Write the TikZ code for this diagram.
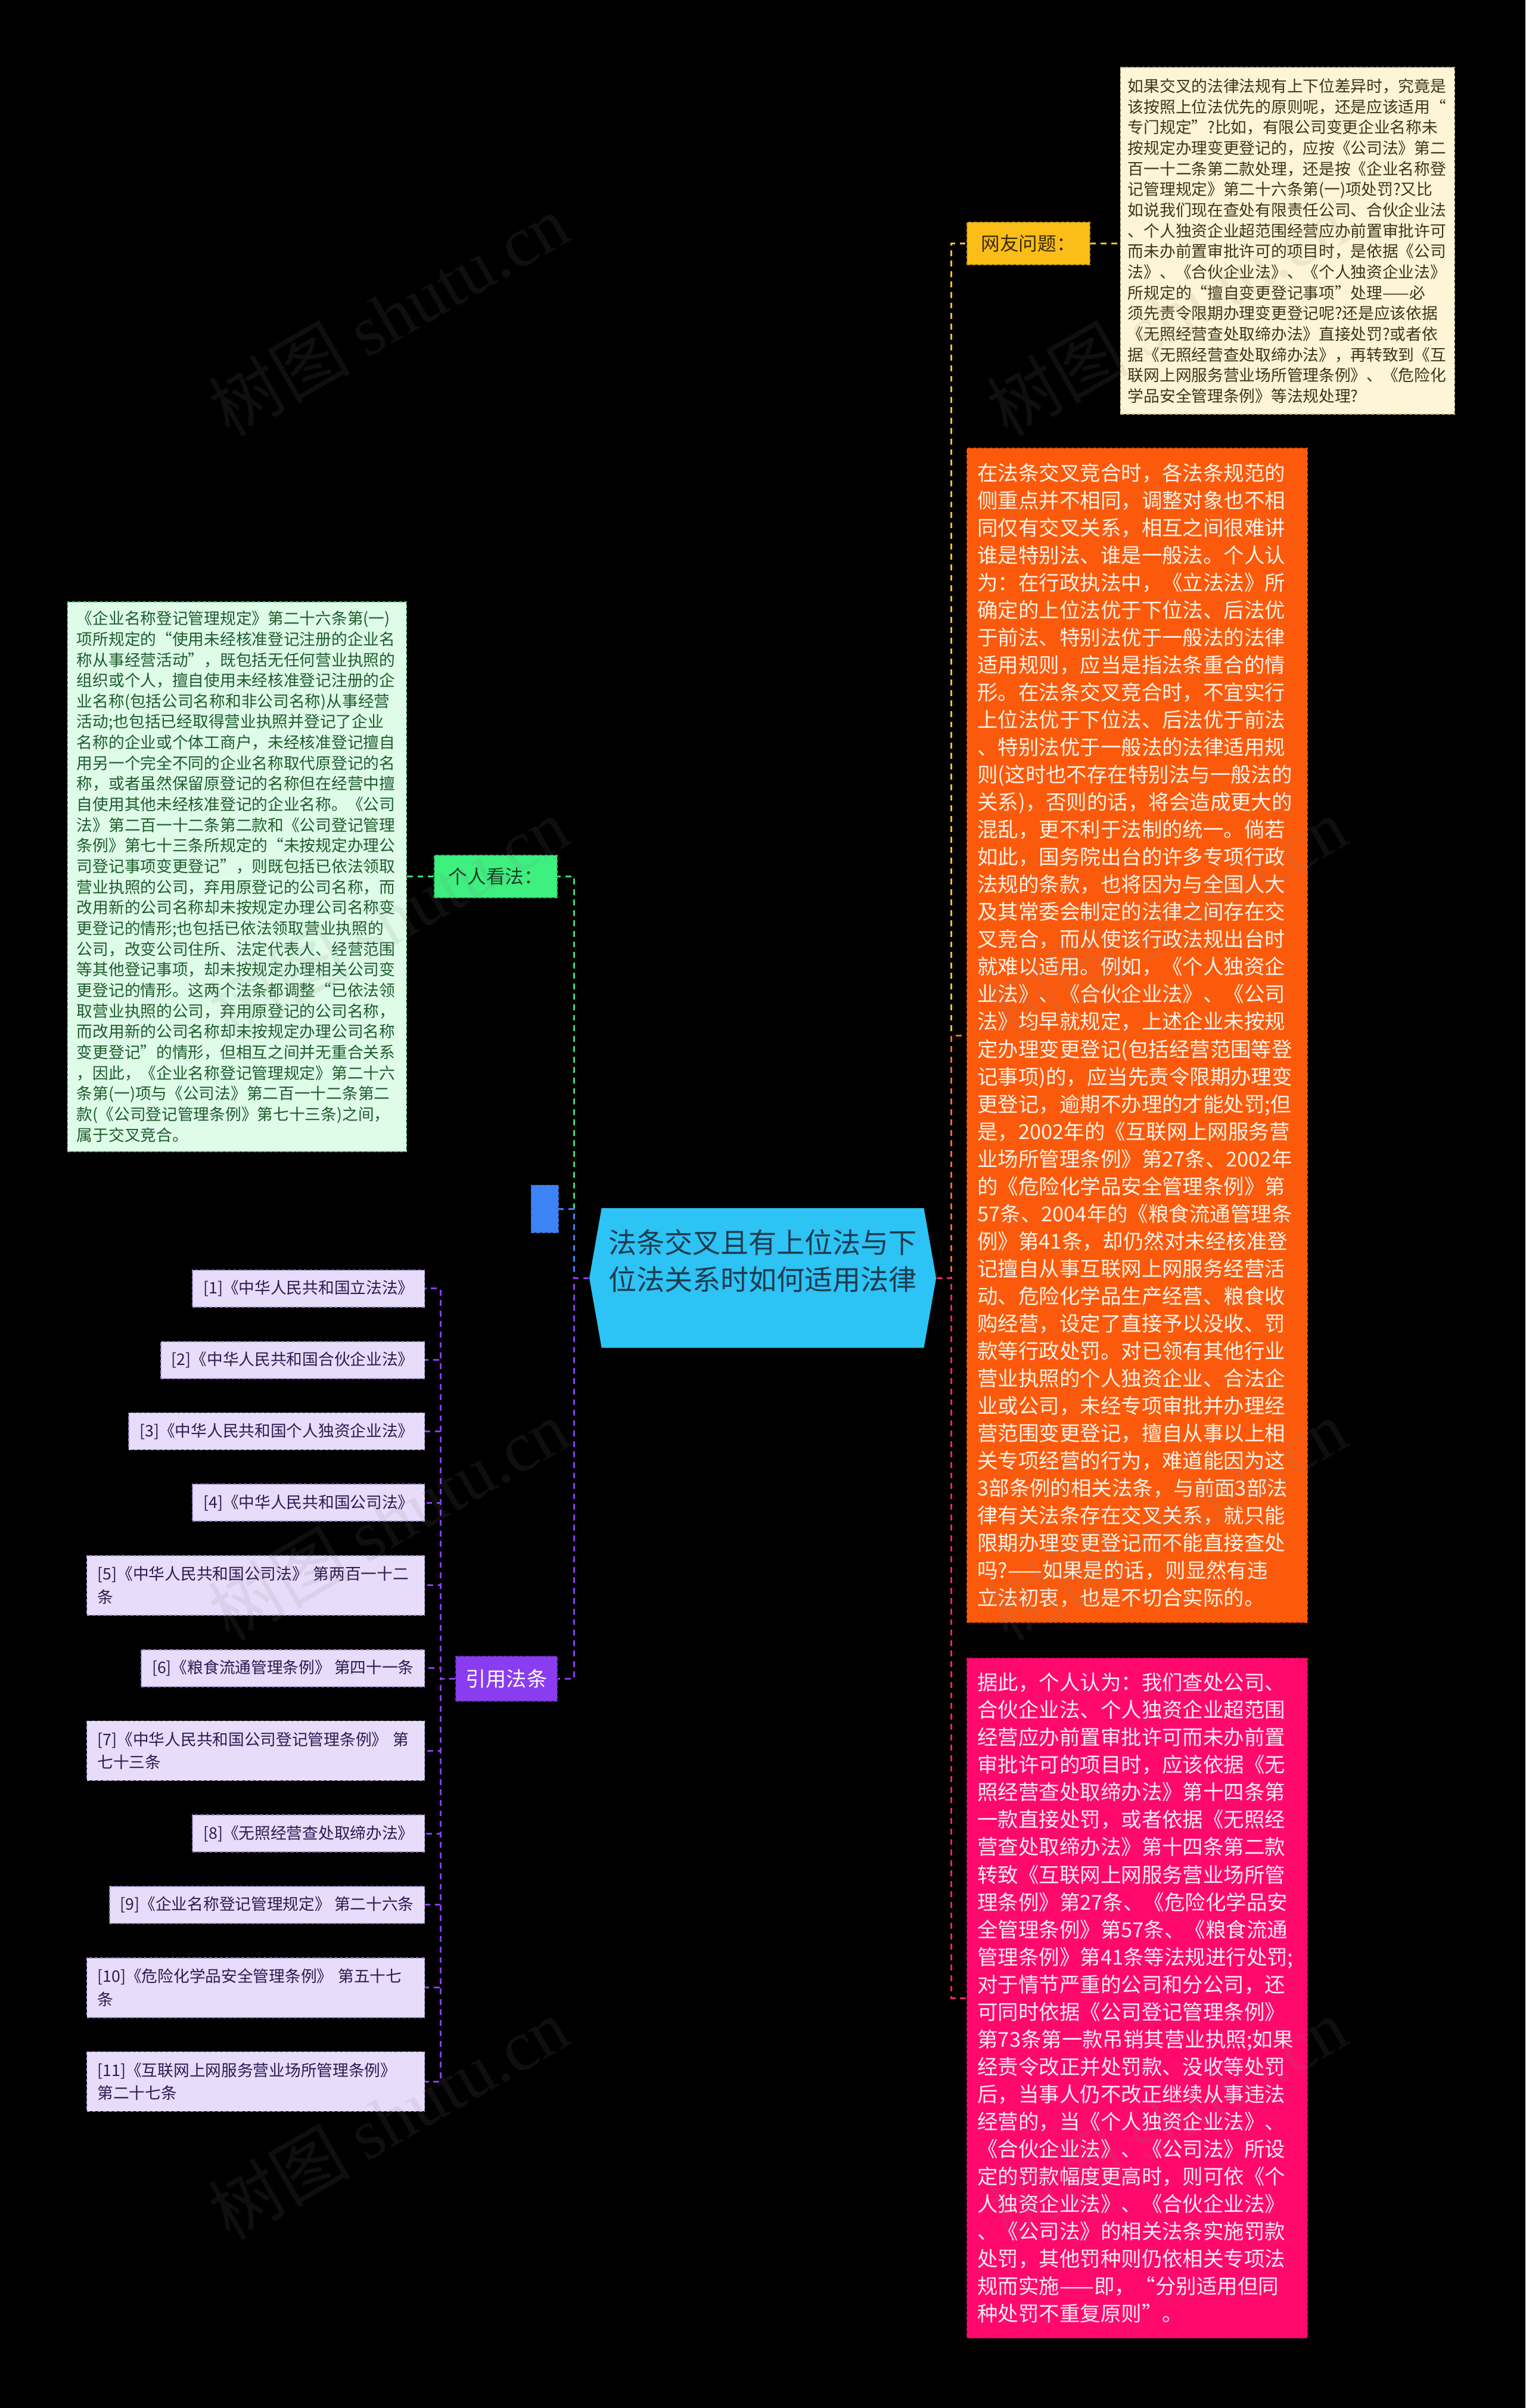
\documentclass[tikz,border=0pt]{standalone}
\usepackage{fontspec}
\setmainfont{Noto Sans CJK SC}
\newfontfamily\wmlatin{Liberation Serif}
\usetikzlibrary{positioning}
\definecolor{rootFill}{HTML}{2DC3F4}
\definecolor{rootInk}{HTML}{1D3B4E}
\definecolor{wentiFill}{HTML}{FBBD18}
\definecolor{wentiInk}{HTML}{3B2A00}
\definecolor{wentiLine}{HTML}{C99A10}
\definecolor{questionFill}{HTML}{FEF4D6}
\definecolor{questionInk}{HTML}{3E3418}
\definecolor{questionLine}{HTML}{BCA774}
\definecolor{analysisFill}{HTML}{FB5A0C}
\definecolor{analysisInk}{HTML}{FFF2E8}
\definecolor{analysisLine}{HTML}{E04A05}
\definecolor{verdictFill}{HTML}{FF0A6C}
\definecolor{verdictInk}{HTML}{FFEAF3}
\definecolor{verdictLine}{HTML}{D80058}
\definecolor{kanfaFill}{HTML}{3EF080}
\definecolor{kanfaInk}{HTML}{1F3B26}
\definecolor{kanfaLine}{HTML}{2CC062}
\definecolor{opinionFill}{HTML}{DEFCE8}
\definecolor{opinionInk}{HTML}{1E5C2C}
\definecolor{opinionLine}{HTML}{5FC982}
\definecolor{blueFill}{HTML}{3C83F6}
\definecolor{yinyongFill}{HTML}{8A3DF0}
\definecolor{refFill}{HTML}{E7DCF9}
\definecolor{refInk}{HTML}{2B1B52}
\definecolor{refLine}{HTML}{9C88C8}
\definecolor{linkYellow}{HTML}{F5C125}
\definecolor{linkOrange}{HTML}{F26E25}
\definecolor{linkPink}{HTML}{E8246C}
\definecolor{linkGreen}{HTML}{3CDB7A}
\definecolor{linkBlue}{HTML}{3C83F6}
\definecolor{linkPurple}{HTML}{8A3DF0}
\tikzset{
  link/.style={line width=0.9pt, dash pattern=on 2.8pt off 2.2pt},
  tagbox/.style={draw, dash pattern=on 1.6pt off 1pt, line width=0.5pt, inner sep=0pt, minimum width=2.06cm, minimum height=0.71cm, font=\fontsize{9pt}{11pt}\selectfont},
  notebox/.style={draw, dash pattern=on 1.6pt off 1pt, line width=0.5pt, align=left, inner ysep=0pt, font=\fontsize{7.6pt}{9.86pt}\selectfont},
  bodybox/.style={draw, dash pattern=on 1.6pt off 1pt, line width=0.5pt, align=left, inner xsep=0.18cm, inner ysep=0pt, text width=5.36cm, minimum width=5.72cm, font=\fontsize{9.8pt}{13.1pt}\selectfont},
  refbox/.style={draw=refLine, fill=refFill, text=refInk, dash pattern=on 1.6pt off 1pt, line width=0.5pt, anchor=north east, align=left, inner xsep=0.18cm, inner ysep=0pt, minimum height=0.62cm, font=\fontsize{7.6pt}{11pt}\selectfont},
  refwide/.style={refbox, text width=5.31cm, minimum height=1.0cm},
  under/.style={below=0.56cm of #1.south east, anchor=north east},
  watermark/.style={rotate=30, text=gray, opacity=0.12, font=\fontsize{34pt}{34pt}\selectfont}
}
\begin{document}
\begin{tikzpicture}[x=0.025755cm, y=-0.025755cm]
  \useasboundingbox (0,0) rectangle (994,1568.6);
  \fill[black] (0,0) rectangle (994,1568.6);
  \fill[rootFill] (384,832.5) -- (392,787) -- (602,787) -- (610,832.5) -- (602,878) -- (392,878) -- cycle;
  \node[minimum width=5.82cm, minimum height=2.34cm, align=center, text=rootInk, font=\fontsize{13.4pt}{17.6pt}\selectfont] (root) at (497,832.5) {法条交叉且有上位法与下\\位法关系时如何适用法律\\\mbox{}};

  \node[tagbox, fill=wentiFill, draw=wentiLine, text=wentiInk] (wenti) at (670,158.5) {网友问题：};
  \node[notebox, fill=questionFill, draw=questionLine, text=questionInk, text width=5.36cm, inner xsep=0.125cm, minimum height=5.82cm] (question) at (839,157) {如果交叉的法律法规有上下位差异时，究竟是\\
该按照上位法优先的原则呢，还是应该适用“\\
专门规定”?比如，有限公司变更企业名称未\\
按规定办理变更登记的，应按《公司法》第二\\
百一十二条第二款处理，还是按《企业名称登\\
记管理规定》第二十六条第(一)项处罚?又比\\
如说我们现在查处有限责任公司、合伙企业法\\
、个人独资企业超范围经营应办前置审批许可\\
而未办前置审批许可的项目时，是依据《公司\\
法》、《合伙企业法》、《个人独资企业法》\\
所规定的“擅自变更登记事项”处理——必\\
须先责令限期办理变更登记呢?还是应该依据\\
《无照经营查处取缔办法》直接处罚?或者依\\
据《无照经营查处取缔办法》，再转致到《互\\
联网上网服务营业场所管理条例》、《危险化\\
学品安全管理条例》等法规处理?};

  \node[bodybox, fill=analysisFill, draw=analysisLine, text=analysisInk, minimum height=19.70cm] (analysis) at (741,674.5) {在法条交叉竞合时，各法条规范的\\
侧重点并不相同，调整对象也不相\\
同仅有交叉关系，相互之间很难讲\\
谁是特别法、谁是一般法。个人认\\
为：在行政执法中，《立法法》所\\
确定的上位法优于下位法、后法优\\
于前法、特别法优于一般法的法律\\
适用规则，应当是指法条重合的情\\
形。在法条交叉竞合时，不宜实行\\
上位法优于下位法、后法优于前法\\
、特别法优于一般法的法律适用规\\
则(这时也不存在特别法与一般法的\\
关系)，否则的话，将会造成更大的\\
混乱，更不利于法制的统一。倘若\\
如此，国务院出台的许多专项行政\\
法规的条款，也将因为与全国人大\\
及其常委会制定的法律之间存在交\\
叉竞合，而从使该行政法规出台时\\
就难以适用。例如，《个人独资企\\
业法》、《合伙企业法》、《公司\\
法》均早就规定，上述企业未按规\\
定办理变更登记(包括经营范围等登\\
记事项)的，应当先责令限期办理变\\
更登记，逾期不办理的才能处罚;但\\
是，2002年的《互联网上网服务营\\
业场所管理条例》第27条、2002年\\
的《危险化学品安全管理条例》第\\
57条、2004年的《粮食流通管理条\\
例》第41条，却仍然对未经核准登\\
记擅自从事互联网上网服务经营活\\
动、危险化学品生产经营、粮食收\\
购经营，设定了直接予以没收、罚\\
款等行政处罚。对已领有其他行业\\
营业执照的个人独资企业、合法企\\
业或公司，未经专项审批并办理经\\
营范围变更登记，擅自从事以上相\\
关专项经营的行为，难道能因为这\\
3部条例的相关法条，与前面3部法\\
律有关法条存在交叉关系，就只能\\
限期办理变更登记而不能直接查处\\
吗?——如果是的话，则显然有违\\
立法初衷，也是不切合实际的。};

  \node[bodybox, fill=verdictFill, draw=verdictLine, text=verdictInk, minimum height=11.41cm] (verdict) at (741,1301.5) {据此，个人认为：我们查处公司、\\
合伙企业法、个人独资企业超范围\\
经营应办前置审批许可而未办前置\\
审批许可的项目时，应该依据《无\\
照经营查处取缔办法》第十四条第\\
一款直接处罚，或者依据《无照经\\
营查处取缔办法》第十四条第二款\\
转致《互联网上网服务营业场所管\\
理条例》第27条、《危险化学品安\\
全管理条例》第57条、《粮食流通\\
管理条例》第41条等法规进行处罚;\\
对于情节严重的公司和分公司，还\\
可同时依据《公司登记管理条例》\\
第73条第一款吊销其营业执照;如果\\
经责令改正并处罚款、没收等处罚\\
后，当事人仍不改正继续从事违法\\
经营的，当《个人独资企业法》、\\
《合伙企业法》、《公司法》所设\\
定的罚款幅度更高时，则可依《个\\
人独资企业法》、《合伙企业法》\\
、《公司法》的相关法条实施罚款\\
处罚，其他罚种则仍依相关专项法\\
规而实施——即，“分别适用但同\\
种处罚不重复原则”。};

  \node[tagbox, fill=kanfaFill, draw=kanfaLine, text=kanfaInk] (kanfa) at (323,571) {个人看法：};
  \node[notebox, fill=opinionFill, draw=opinionLine, text=opinionInk, text width=5.38cm, inner xsep=0.155cm, minimum height=9.22cm] (opinion) at (154.5,571) {《企业名称登记管理规定》第二十六条第(一)\\
项所规定的“使用未经核准登记注册的企业名\\
称从事经营活动”，既包括无任何营业执照的\\
组织或个人，擅自使用未经核准登记注册的企\\
业名称(包括公司名称和非公司名称)从事经营\\
活动;也包括已经取得营业执照并登记了企业\\
名称的企业或个体工商户，未经核准登记擅自\\
用另一个完全不同的企业名称取代原登记的名\\
称，或者虽然保留原登记的名称但在经营中擅\\
自使用其他未经核准登记的企业名称。《公司\\
法》第二百一十二条第二款和《公司登记管理\\
条例》第七十三条所规定的“未按规定办理公\\
司登记事项变更登记”，则既包括已依法领取\\
营业执照的公司，弃用原登记的公司名称，而\\
改用新的公司名称却未按规定办理公司名称变\\
更登记的情形;也包括已依法领取营业执照的\\
公司，改变公司住所、法定代表人、经营范围\\
等其他登记事项，却未按规定办理相关公司变\\
更登记的情形。这两个法条都调整“已依法领\\
取营业执照的公司，弃用原登记的公司名称，\\
而改用新的公司名称却未按规定办理公司名称\\
变更登记”的情形，但相互之间并无重合关系\\
，因此，《企业名称登记管理规定》第二十六\\
条第(一)项与《公司法》第二百一十二条第二\\
款(《公司登记管理条例》第七十三条)之间，\\
属于交叉竞合。};

  \node[fill=blueFill, draw=linkBlue!80!black, dash pattern=on 1.6pt off 1pt, inner sep=0pt, minimum width=0.46cm, minimum height=0.80cm] (blank) at (355,787.5) {};
  \node[tagbox, fill=yinyongFill, draw=yinyongFill!80!black, text=white, minimum width=1.70cm, minimum height=0.75cm, font=\fontsize{9.7pt}{11pt}\selectfont] (yinyong) at (330,1093.5) {引用法条};

  \node[refbox] (r1) at (277,827) {[1]《中华人民共和国立法法》};
  \node[refbox, under=r1] (r2) {[2]《中华人民共和国合伙企业法》};
  \node[refbox, under=r2] (r3) {[3]《中华人民共和国个人独资企业法》};
  \node[refbox, under=r3] (r4) {[4]《中华人民共和国公司法》};
  \node[refwide, under=r4] (r5) {[5]《中华人民共和国公司法》 第两百一十二\\条};
  \node[refbox, under=r5] (r6) {[6]《粮食流通管理条例》 第四十一条};
  \node[refwide, under=r6] (r7) {[7]《中华人民共和国公司登记管理条例》 第\\七十三条};
  \node[refbox, under=r7] (r8) {[8]《无照经营查处取缔办法》};
  \node[refbox, under=r8] (r9) {[9]《企业名称登记管理规定》 第二十六条};
  \node[refwide, under=r9] (r10) {[10]《危险化学品安全管理条例》 第五十七\\条};
  \node[refwide, under=r10] (r11) {[11]《互联网上网服务营业场所管理条例》\\第二十七条};

  \coordinate (ltrunk) at (374,832.5);
  \coordinate (rtrunk) at (620,832.5);
  \coordinate (refspine) at (287,1093.5);

  \draw[link, linkYellow] (root.east) -- (rtrunk) |- (wenti.west);
  \draw[link, linkOrange] (root.east) -- (rtrunk) |- (analysis.west);
  \draw[link, linkPink] (root.east) -- (rtrunk) |- (verdict.west);
  \draw[link, linkYellow] (wenti.east) -- (wenti.east -| question.west);
  \draw[link, linkGreen] (root.west) -- (ltrunk) |- (kanfa.east);
  \draw[link, linkBlue] (root.west) -- (ltrunk) |- (blank.east);
  \draw[link, linkPurple] (root.west) -- (ltrunk) |- (yinyong.east);
  \draw[link, linkGreen] (kanfa.west) -- (kanfa.west -| opinion.east);
  \foreach \i in {1,...,11}
    \draw[link, linkPurple] (yinyong.west) -- (refspine) |- (r\i.east);

  \foreach \wx/\wy [count=\k] in {253/205, 760/205, 253/598, 760/598, 253/990, 760/990, 253/1380, 760/1380}
    \node[watermark] (wm\k) at (\wx,\wy) {树图 {\wmlatin shutu.cn}};
\end{tikzpicture}
\end{document}
